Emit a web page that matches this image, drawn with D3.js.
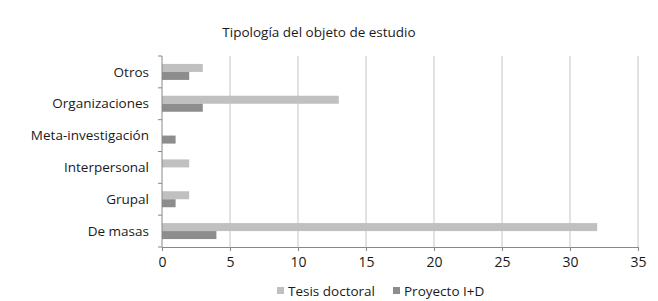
<!DOCTYPE html>
<html>
<head>
<meta charset="utf-8">
<script src="https://cdn.jsdelivr.net/npm/d3@7"></script>
<style>
  body { margin: 0; background: #fff; }
  text { font-family: "Open Sans", "Noto Sans", sans-serif; fill: #1a1a1a; }
</style>
</head>
<body>
<div id="chart"></div>
<script>
const categories = ["Otros", "Organizaciones", "Meta-investigación", "Interpersonal", "Grupal", "De masas"];
const seriesNames = ["Tesis doctoral", "Proyecto I+D"];
const tesis = [3, 13, 0, 2, 2, 32];
const proyecto = [2, 3, 1, 0, 1, 4];
const xTicks = [0, 5, 10, 15, 20, 25, 30, 35];
const colors = ["#c0c0c0", "#8d8d8d"];

const width = 658, height = 301;
const margin = { top: 56, right: 20, bottom: 54, left: 162 };

const svg = d3.select("#chart").append("svg")
  .attr("width", width).attr("height", height);

const x = d3.scaleLinear().domain([0, 35]).range([margin.left, 638]);
const y = d3.scaleBand().domain(categories).range([margin.top, 247]);

// gridlines
svg.append("g").selectAll("line")
  .data(xTicks.slice(1))
  .enter().append("line")
  .attr("x1", d => x(d)).attr("x2", d => x(d))
  .attr("y1", margin.top).attr("y2", 247)
  .attr("stroke", "#c4c4c4").attr("stroke-width", 1);

// bars
const barH = 8;
const series = [tesis, proyecto];
series.forEach(function(vals, s) {
  svg.append("g").selectAll("rect")
    .data(vals)
    .enter().append("rect")
    .attr("x", x(0))
    .attr("y", (d, i) => y(categories[i]) + y.bandwidth() / 2 - barH + s * barH)
    .attr("width", d => x(d) - x(0))
    .attr("height", barH)
    .attr("fill", colors[s]);
});

// x axis
const xAxis = svg.append("g")
  .attr("transform", "translate(0,247)")
  .call(d3.axisBottom(x).tickValues(xTicks).tickSize(4).tickPadding(6));
xAxis.select(".domain").attr("stroke", "#888");
xAxis.selectAll(".tick line").attr("stroke", "#888");
xAxis.selectAll("text").attr("font-size", 14).attr("font-family", "Open Sans").attr("fill", "#1a1a1a");

// y axis line and ticks at band boundaries
svg.append("line")
  .attr("x1", x(0)).attr("x2", x(0))
  .attr("y1", margin.top).attr("y2", 247)
  .attr("stroke", "#888");
const bounds = categories.map(c => y(c)).concat([247]);
svg.append("g").selectAll("line")
  .data(bounds)
  .enter().append("line")
  .attr("x1", x(0) - 4).attr("x2", x(0))
  .attr("y1", d => d).attr("y2", d => d)
  .attr("stroke", "#888");

svg.append("g").selectAll("text")
  .data(categories)
  .enter().append("text")
  .attr("x", 149)
  .attr("y", d => y(d) + y.bandwidth() / 2)
  .attr("dy", "0.35em")
  .attr("text-anchor", "end")
  .attr("font-size", 13.5)
  .text(d => d);

// title
svg.append("text")
  .attr("x", 319).attr("y", 37)
  .attr("text-anchor", "middle")
  .attr("font-size", 13.5)
  .text("Tipología del objeto de estudio");

// legend
const legendX = [277, 393];
seriesNames.forEach(function(name, i) {
  svg.append("rect")
    .attr("x", legendX[i]).attr("y", 287)
    .attr("width", 7).attr("height", 7)
    .attr("fill", colors[i]);
  svg.append("text")
    .attr("x", legendX[i] + 11).attr("y", 291)
    .attr("dy", "0.35em")
    .attr("font-size", 13.5)
    .text(name);
});
</script>
</body>
</html>
